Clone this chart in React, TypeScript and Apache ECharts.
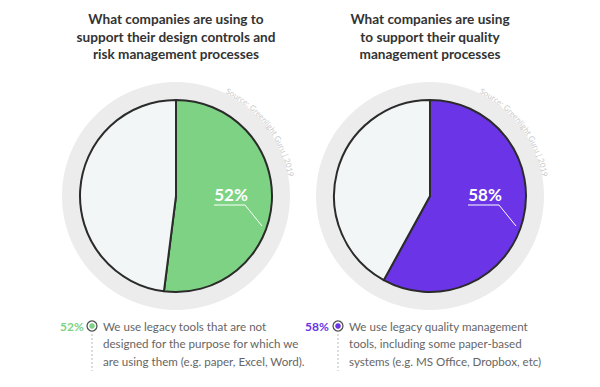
import React, { useEffect, useRef } from "react";
import * as echarts from "echarts";

const titles = [
  ["What companies are using to", "support their design controls and", "risk management processes"],
  ["What companies are using", "to support their quality", "management processes"],
];
const sliceNames = ["Legacy tools", "Other"];
const leftValues = [52, 48];
const rightValues = [58, 42];
const accentColors = ["#7dd383", "#6b34e6"];
const legendPercents = ["52%", "58%"];
const legendTexts = [
  ["We use legacy tools that are not", "designed for the purpose for which we", "are using them (e.g. paper, Excel, Word)."],
  ["We use legacy quality management", "tools, including some paper-based", "systems (e.g. MS Office, Dropbox, etc)"],
];
const sourceText = "Source: Greenlight Guru | 2019";

const FONT = "Lato, 'Open Sans', sans-serif";

export default function App() {
  const ref = useRef<HTMLDivElement>(null);
  useEffect(() => {
    if (!ref.current) return;
    const chart = echarts.init(ref.current, null, { renderer: "svg" });
    const centers = [[176, 196], [430, 196]];
    const R = 96;
    const RO = 114;

    const canvas = document.createElement("canvas");
    const ctx = canvas.getContext("2d")!;
    const srcFontSize = 7.8;
    ctx.font = `${srcFontSize}px ${FONT}`;

    const graphics: any[] = [];
    const Z = 100;
    // titles
    titles.forEach((lines, i) => {
      lines.forEach((t, j) => {
        graphics.push({
          type: "text",
          z: Z,
          x: centers[i][0],
          y: 19 + j * 17.5,
          style: { text: t, fill: "#333333", font: `bold 13.6px ${FONT}`, align: "center", verticalAlign: "middle" },
        });
      });
    });
    // source arc text
    centers.forEach((c) => {
      const rText = 117;
      const startAng = 25.5 * Math.PI / 180;
      let acc = 0;
      for (const ch of sourceText) {
        const w = ctx.measureText(ch).width * 1.05;
        const a = startAng + (acc + w / 2) / rText;
        acc += w;
        if (ch === " ") continue;
        graphics.push({
          type: "text",
          z: Z,
          x: c[0] + rText * Math.sin(a),
          y: c[1] - rText * Math.cos(a),
          rotation: -a,
          style: { text: ch, fill: "#c9c9c9", font: `${srcFontSize}px ${FONT}`, align: "center", verticalAlign: "middle" },
        });
      }
    });
    // inner labels
    const labels = [leftValues[0] + "%", rightValues[0] + "%"];
    centers.forEach((c, i) => {
      const lx = c[0] + 55;
      graphics.push({
        type: "text",
        z: Z,
        x: lx,
        y: c[1] - 2,
        style: { text: labels[i], fill: "#ffffff", font: `bold 17px ${FONT}`, align: "center", verticalAlign: "middle" },
      });
      graphics.push({
        type: "polyline",
        z: Z,
        shape: { points: [[c[0] + 38, c[1] + 9], [c[0] + 69, c[1] + 9], [c[0] + 86, c[1] + 30]] },
        style: { stroke: "#ffffff", lineWidth: 1, fill: null },
      });
    });
    // legends
    const legX = [[60, 92, 103], [305, 338, 349]];
    legendTexts.forEach((lines, i) => {
      const [px, mx, tx] = legX[i];
      graphics.push({
        type: "text",
        z: Z,
        x: px,
        y: 326,
        style: { text: legendPercents[i], fill: accentColors[i], font: `bold 12px ${FONT}`, verticalAlign: "middle" },
      });
      graphics.push({ type: "circle", z: Z, shape: { cx: mx, cy: 326, r: 5 }, style: { fill: "#ffffff", stroke: "#555555", lineWidth: 1.3 } });
      graphics.push({ type: "circle", z: Z, shape: { cx: mx, cy: 326, r: 2.8 }, style: { fill: accentColors[i] } });
      graphics.push({
        type: "line",
        z: Z,
        shape: { x1: mx, y1: 334, x2: mx, y2: 371 },
        style: { stroke: "#bbbbbb", lineWidth: 1, lineDash: [2, 2] },
      });
      lines.forEach((t, j) => {
        graphics.push({
          type: "text",
          z: Z,
          x: tx,
          y: 326 + j * 17.5,
          style: { text: t, fill: "#666666", font: `11.6px ${FONT}`, verticalAlign: "middle" },
        });
      });
    });

    const mkBg = (c: number[]) => ({
      type: "pie",
      center: c,
      radius: [R, RO],
      silent: true,
      label: { show: false },
      labelLine: { show: false },
      itemStyle: { color: "#ececec", borderWidth: 0 },
      data: [{ value: 1, name: "bg" }],
    });
    const mkPie = (c: number[], vals: number[], color: string) => ({
      type: "pie",
      center: c,
      radius: [0, R],
      startAngle: 90,
      clockwise: true,
      silent: true,
      label: { show: false },
      labelLine: { show: false },
      itemStyle: { borderColor: "#2b2b2b", borderWidth: 2 },
      data: vals.map((v, k) => ({ value: v, name: sliceNames[k], itemStyle: { color: k === 0 ? color : "#f3f6f6" } })),
    });

    chart.setOption({
      animation: false,
      backgroundColor: "#ffffff",
      series: [
        mkBg(centers[0]),
        mkBg(centers[1]),
        mkPie(centers[0], leftValues, accentColors[0]),
        mkPie(centers[1], rightValues, accentColors[1]),
      ],
      graphic: graphics,
    });
    return () => chart.dispose();
  }, []);
  return <div ref={ref} style={{ width: 600, height: 387, position: "absolute", left: 0, top: 0 }} />;
}
